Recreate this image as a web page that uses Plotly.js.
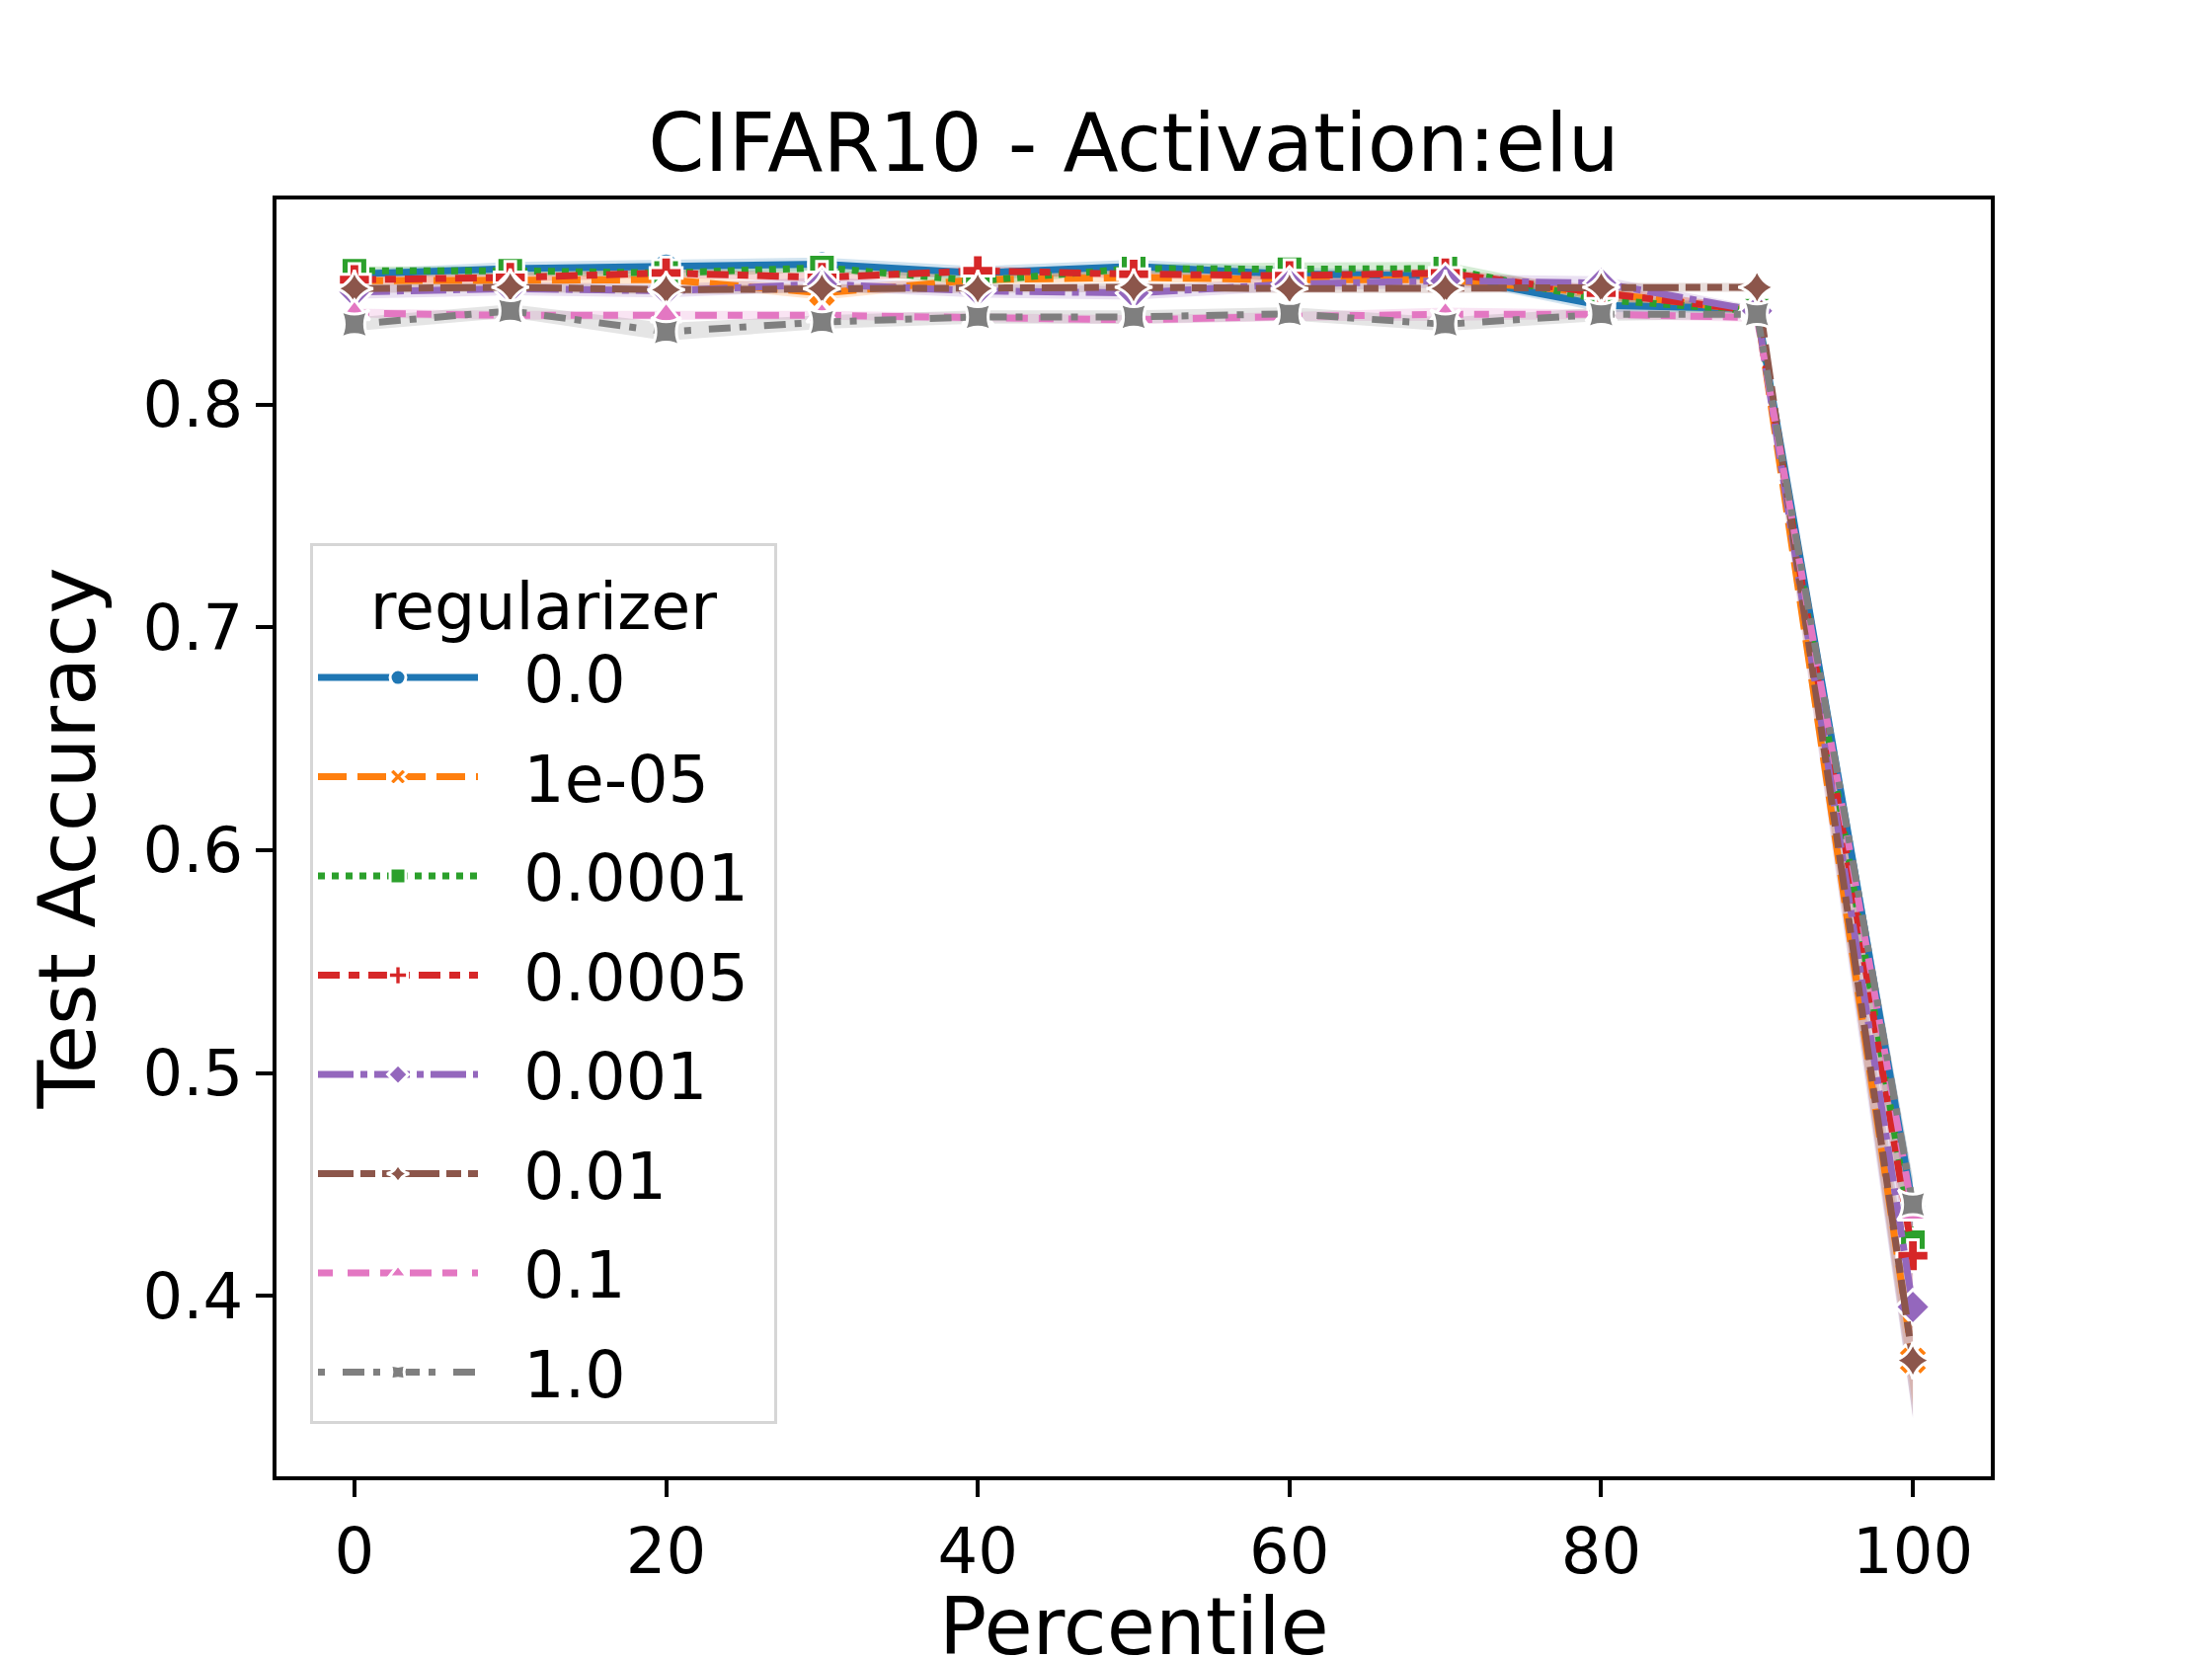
<!DOCTYPE html>
<html>
<head>
<meta charset="utf-8">
<script src="https://cdn.plot.ly/plotly-3.0.1.min.js"></script>
<style>body{margin:0;background:#fff;}</style>
</head>
<body>
<div id="graph" style="width:2240px;height:1680px;"></div>
<script>
// percentile on x, test accuracy per regularizer value
var percentile = [0, 10, 20, 30, 40, 50, 60, 70, 80, 90, 100];
var regLabels = ['0.0', '1e-05', '0.0001', '0.0005', '0.001', '0.01', '0.1', '1.0'];

var acc_0    = [0.8585, 0.861, 0.862, 0.863, 0.859, 0.862, 0.8585, 0.8578, 0.8445, 0.843, 0.440];
var acc_1e5  = [0.8555, 0.856, 0.856, 0.850, 0.856, 0.857, 0.856, 0.856, 0.850, 0.842, 0.371];
var acc_1e4  = [0.860, 0.860, 0.859, 0.8614, 0.8555, 0.861, 0.8607, 0.861, 0.847, 0.842, 0.424];
var acc_5e4  = [0.856, 0.857, 0.859, 0.857, 0.860, 0.8585, 0.8578, 0.859, 0.850, 0.842, 0.418];
var acc_1e3  = [0.8505, 0.852, 0.851, 0.854, 0.851, 0.850, 0.854, 0.8555, 0.8545, 0.842, 0.395];
var acc_1e2  = [0.852, 0.8526, 0.8515, 0.852, 0.852, 0.8526, 0.852, 0.852, 0.8526, 0.8526, 0.371];
var acc_1e1  = [0.841, 0.840, 0.840, 0.840, 0.839, 0.838, 0.8395, 0.8405, 0.8405, 0.839, 0.437];
var acc_1    = [0.836, 0.842, 0.8326, 0.837, 0.8393, 0.8393, 0.8407, 0.836, 0.8405, 0.8405, 0.441];

// half width of the confidence band
var ci_0    = [0.002, 0.003, 0.003, 0.003, 0.003, 0.003, 0.003, 0.002, 0.003, 0.002, 0.012];
var ci_1e5  = [0.002, 0.002, 0.002, 0.003, 0.002, 0.002, 0.002, 0.002, 0.003, 0.002, 0.020];
var ci_1e4  = [0.002, 0.002, 0.002, 0.002, 0.002, 0.002, 0.003, 0.003, 0.003, 0.002, 0.015];
var ci_5e4  = [0.002, 0.002, 0.002, 0.002, 0.002, 0.002, 0.002, 0.002, 0.003, 0.002, 0.015];
var ci_1e3  = [0.003, 0.003, 0.003, 0.003, 0.003, 0.003, 0.003, 0.003, 0.003, 0.002, 0.050];
var ci_1e2  = [0.002, 0.002, 0.002, 0.002, 0.002, 0.002, 0.002, 0.002, 0.002, 0.002, 0.025];
var ci_1e1  = [0.002, 0.002, 0.002, 0.002, 0.002, 0.002, 0.002, 0.003, 0.002, 0.002, 0.012];
var ci_1    = [0.003, 0.003, 0.004, 0.003, 0.003, 0.003, 0.003, 0.003, 0.003, 0.002, 0.012];

var accList = [acc_0, acc_1e5, acc_1e4, acc_5e4, acc_1e3, acc_1e2, acc_1e1, acc_1];
var ciList = [ci_0, ci_1e5, ci_1e4, ci_5e4, ci_1e3, ci_1e2, ci_1e1, ci_1];

var lineColors = ['#1f77b4', '#ff7f0e', '#2ca02c', '#d62728', '#9467bd', '#8c564b', '#e377c2', '#7f7f7f'];
var bandColors = ['rgba(31,119,180,0.2)', 'rgba(255,127,14,0.2)', 'rgba(44,160,44,0.2)', 'rgba(214,39,40,0.2)',
                  'rgba(148,103,189,0.2)', 'rgba(140,86,75,0.2)', 'rgba(227,119,194,0.2)', 'rgba(127,127,127,0.2)'];
var lineDashes = ['solid', '29px,11px', '7px,7px', '22px,9px,11px,9px', '36px,7px,7px,7px',
                  '36px,7px,15px,7px,15px,7px', '15px,15px,22px,11px', '7px,18px,22px,9px'];
var markerSymbols = ['circle', 'x', 'square', 'cross', 'diamond', 'star-diamond', 'triangle-up', 'star-square'];

function buildAccuracyPlot(){

  var bandTraces = [];
  var lineTraces = [];

  accList.forEach((acc, i) => {
    var lower = acc.map((v, j) => v - ciList[i][j]);
    var upper = acc.map((v, j) => v + ciList[i][j]);

    //lower edge of band, then upper edge filled down to it
    bandTraces.push({
      x: percentile, y: lower, mode: 'lines', line: {width: 0, color: bandColors[i]},
      legendgroup: 'g' + i, showlegend: false, hoverinfo: 'skip', type: 'scatter'
    });
    bandTraces.push({
      x: percentile, y: upper, mode: 'lines', line: {width: 0, color: bandColors[i]},
      fill: 'tonexty', fillcolor: bandColors[i],
      legendgroup: 'g' + i, showlegend: false, hoverinfo: 'skip', type: 'scatter'
    });

    lineTraces.push({
      x: percentile,
      y: acc,
      name: '\u00a0\u00a0' + regLabels[i] + '\u00a0',   // gap between legend line and label
      legendgroup: 'g' + i,
      mode: 'lines+markers',
      line: {color: lineColors[i], width: 7, dash: lineDashes[i]},
      marker: {symbol: markerSymbols[i], size: 27, color: lineColors[i], line: {color: 'white', width: 3}},
      type: 'scatter'
    });
  });

  var data = bandTraces.concat(lineTraces);

  var layout = {
    width: 2240,
    height: 1680,
    autosize: false,
    paper_bgcolor: 'white',
    plot_bgcolor: 'white',
    font: {family: 'DejaVu Sans', color: 'black', size: 64},
    margin: {l: 280, r: 224, t: 202, b: 185},
    title: {text: 'CIFAR10 - Activation:elu', font: {size: 82}, x: 0.5, xref: 'paper', y: 0.914, yanchor: 'middle'},
    xaxis: {
      range: [-5, 105], tickvals: [0, 20, 40, 60, 80, 100],
      ticks: 'outside', ticklen: 17, tickwidth: 4, tickcolor: 'black',
      showline: true, linewidth: 4, linecolor: 'black', mirror: true,
      showgrid: false, zeroline: false, tickfont: {size: 64}
    },
    yaxis: {
      range: [0.319, 0.892], tickvals: [0.4, 0.5, 0.6, 0.7, 0.8],
      ticks: 'outside', ticklen: 17, tickwidth: 4, tickcolor: 'black',
      showline: true, linewidth: 4, linecolor: 'black', mirror: true,
      showgrid: false, zeroline: false, tickfont: {size: 64},
      title: {text: 'Test Accuracy', font: {size: 80}, standoff: 22}
    },
    // x axis label sits low at the bottom edge, the same as the original figure
    annotations: [{
      text: 'Percentile', xref: 'paper', yref: 'paper', x: 0.5, y: -0.118,
      xanchor: 'center', yanchor: 'middle', showarrow: false, font: {size: 80}
    }],
    showlegend: true,
    legend: {
      x: 0.0196, y: 0.731, xanchor: 'left', yanchor: 'top',
      bgcolor: 'rgba(255,255,255,0.8)', bordercolor: '#d6d6d6', borderwidth: 3,
      font: {size: 65}, traceorder: 'grouped', tracegroupgap: 13, itemwidth: 162,
      title: {text: 'regularizer', side: 'top center', font: {size: 65}}
    },
    hovermode: 'closest'
  };

  Plotly.newPlot('graph', data, layout, {staticPlot: true});
}

buildAccuracyPlot();
</script>
</body>
</html>
